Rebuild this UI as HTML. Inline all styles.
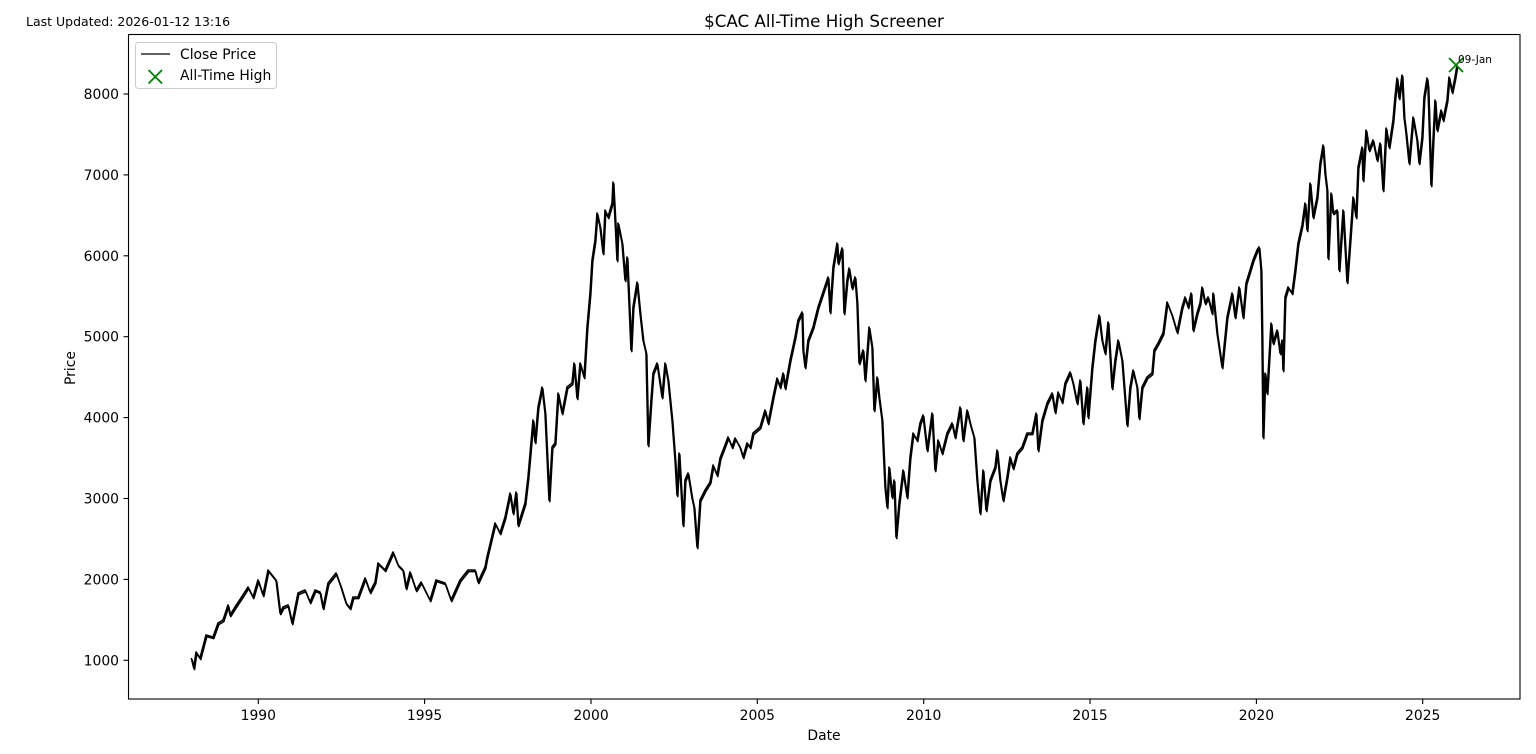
<!DOCTYPE html>
<html>
<head>
<meta charset="utf-8">
<style>
  html, body { margin: 0; padding: 0; background: #ffffff; }
  svg { display: block; }
  text { font-family: "DejaVu Sans", "Liberation Sans", sans-serif; fill: #000; }
</style>
</head>
<body>
<svg width="1536" height="754" viewBox="0 0 1536 754" xmlns="http://www.w3.org/2000/svg">
  <rect x="0" y="0" width="1536" height="754" fill="#ffffff"/>

  <!-- Header texts -->
  <text x="26" y="26" font-size="12.5">Last Updated: 2026-01-12 13:16</text>
  <text x="824" y="27" font-size="16.7" text-anchor="middle">$CAC All-Time High Screener</text>

  <!-- Price series -->
  <polyline id="px" fill="none" stroke="#000" stroke-width="1.6" stroke-linejoin="round" points="
191.3,658 193.7,668 196,652 200,658 206,635 213,637 218,623 223,620 228,605 230,615 235,607 241,598 248,587 253,597 258,580 263,595 268,570 276,580 280,613 283,607 288,605 292,623 298,593 305,590 310,602 315,590 320,592 323,608 328,583 336,573 341,587 346,603 350,608 353,597 358,597 365,578 370,592 375,582 378,563 385,570 393,552 398,565 403,570 406,588 410,572 416,590 421,582 430,600 436,580 445,583 451,600 460,580 468,570 475,570 478,582 485,567
486.7,558 495,523 500,533 505,517 510,493 513,513 516,492 518,525 525,503 528,477 533,420 535,442 538,407 542,387 545,413 549,500 552,447 555,443 558,393 562,413 567,387 572,383 574,363 577,398 580,363 584,377 587,327 590,293 592,260 595,240 597,213 600,227 603,253 605,210 608,217 612,203 613,182 615,220 617,260 618,223 622,243 625,280 627,257 631,350 633,307 637,282 640,313 643,340 646,353 648,445 651,400 653,373 657,363 662,397 665,363 668,380 672,420 675,460 677,495 679,453 683,525 685,480 688,473 692,498 694,507 697,547 700,500 705,490 710,482 713,465 717,475 720,458 725,445 728,437 732,447 735,438 740,447 743,457 747,443
750,447 753,433 760,427 765,410 768,423 773,397 777,378 780,387 783,373 785,388 790,360 795,337 798,320 802,312 803,350 805,367 808,340 813,327 818,307 823,292 828,277 830,312 833,267 837,243 838,263 842,248 844,313 847,280 849,268 852,288 855,277 857,303 859,363 863,350 865,380 869,327 872,347 874,410 877,377 879,397 882,420 883,443 885,487 887,507 889,467 892,497 894,480 896,537 899,503 903,470 907,497 910,457 913,433 917,440 920,423 923,415 927,450 932,413 935,470 938,440 942,453 947,433 952,423 955,437 960,407 963,440 967,410 970,423 974,437 977,480 980,513 983,470 986,510 990,480 995,467 997,450 1000,480 1003,500 1007,477 1010,457 1013,468 1017,453 1022,447 1027,433 1032,433 1036,413 1038,450 1042,420 1047,403 1052,393 1055,412 1058,392 1062,402 1065,383 1070,372 1073,383 1077,403
1080,380 1083,423 1087,387 1088,417 1092,367 1095,340 1099,315 1102,340 1105,353 1108,322 1112,388 1115,360 1118,340 1122,360 1127,425 1130,387 1133,370 1137,387 1139,418 1142,387 1147,377 1152,373 1154,350 1158,343 1163,333 1167,302 1172,315 1177,332 1182,307 1185,297 1188,307 1191,293 1193,330 1197,313 1200,303 1202,287 1205,303 1208,297 1212,313 1213,293 1217,333 1222,367 1227,317 1232,293 1235,317 1239,287 1243,317 1246,283 1250,270 1253,260 1257,250 1259,247 1261,270 1262,340 1263,437 1265,373 1267,393 1271,323 1273,343 1277,330 1280,353 1282,340 1283,370 1285,297 1288,287 1292,293 1295,270 1298,243 1302,225 1305,203 1307,230 1310,183 1313,217 1317,197 1320,163 1323,145 1325,173 1327,190 1328,258 1331,193 1333,213 1337,210 1339,270 1343,210 1347,282 1350,240 1353,197 1356,217 1358,167 1362,147 1363,180 1366,130 1369,150 1373,140 1377,160 1380,143 1383,190 1386,128 1389,147 1393,120 1395,97 1397,78 1399,98 1402,75 1404,117 1406,133 1409,163 1413,117 1417,140 1419,163 1422,137 1424,97 1427,78 1428,87 1431,185 1433,140 1435,100 1437,130 1441,110 1443,120 1447,100 1449,77 1452,92 1455,77 1457,65"/>
  <use href="#px" transform="translate(0.8,1.6)"/>

  <!-- ATH marker -->
  <g stroke="#008000" stroke-width="1.8">
    <line x1="1449" y1="58" x2="1463" y2="72"/>
    <line x1="1449" y1="72" x2="1463" y2="58"/>
  </g>
  <text x="1458" y="63" font-size="10.5">09-Jan</text>

  <!-- Axes frame -->
  <rect x="128.5" y="34.5" width="1391.5" height="664.5" fill="none" stroke="#000" stroke-width="1.1"/>

  <!-- Y ticks -->
  <g stroke="#000" stroke-width="1.1">
    <line x1="123.5" y1="660.3" x2="128.5" y2="660.3"/>
    <line x1="123.5" y1="579.4" x2="128.5" y2="579.4"/>
    <line x1="123.5" y1="498.5" x2="128.5" y2="498.5"/>
    <line x1="123.5" y1="417.6" x2="128.5" y2="417.6"/>
    <line x1="123.5" y1="336.7" x2="128.5" y2="336.7"/>
    <line x1="123.5" y1="255.8" x2="128.5" y2="255.8"/>
    <line x1="123.5" y1="174.9" x2="128.5" y2="174.9"/>
    <line x1="123.5" y1="94" x2="128.5" y2="94"/>
  </g>
  <g font-size="13.9" text-anchor="end">
    <text x="119" y="665.3">1000</text>
    <text x="119" y="584.4">2000</text>
    <text x="119" y="503.5">3000</text>
    <text x="119" y="422.6">4000</text>
    <text x="119" y="341.7">5000</text>
    <text x="119" y="260.8">6000</text>
    <text x="119" y="179.9">7000</text>
    <text x="119" y="99">8000</text>
  </g>

  <!-- X ticks -->
  <g stroke="#000" stroke-width="1.1">
    <line x1="258.3" y1="699" x2="258.3" y2="704"/>
    <line x1="424.6" y1="699" x2="424.6" y2="704"/>
    <line x1="591" y1="699" x2="591" y2="704"/>
    <line x1="757.3" y1="699" x2="757.3" y2="704"/>
    <line x1="923.7" y1="699" x2="923.7" y2="704"/>
    <line x1="1090" y1="699" x2="1090" y2="704"/>
    <line x1="1256.4" y1="699" x2="1256.4" y2="704"/>
    <line x1="1422.7" y1="699" x2="1422.7" y2="704"/>
  </g>
  <g font-size="13.9" text-anchor="middle">
    <text x="258.3" y="720">1990</text>
    <text x="424.6" y="720">1995</text>
    <text x="591" y="720">2000</text>
    <text x="757.3" y="720">2005</text>
    <text x="923.7" y="720">2010</text>
    <text x="1090" y="720">2015</text>
    <text x="1256.4" y="720">2020</text>
    <text x="1422.7" y="720">2025</text>
  </g>

  <!-- Axis labels -->
  <text x="824" y="740" font-size="13.9" text-anchor="middle">Date</text>
  <text x="75" y="368" font-size="13.9" text-anchor="middle" transform="rotate(-90 75 368)">Price</text>

  <!-- Legend -->
  <rect x="135.5" y="42.5" width="141" height="46" rx="3" ry="3" fill="#ffffff" fill-opacity="0.85" stroke="#cccccc" stroke-width="1"/>
  <line x1="141" y1="54" x2="170" y2="54" stroke="#000" stroke-width="1.3"/>
  <text x="180" y="59" font-size="13.9">Close Price</text>
  <g stroke="#008000" stroke-width="1.8">
    <line x1="148.5" y1="70" x2="162" y2="83.5"/>
    <line x1="148.5" y1="83.5" x2="162" y2="70"/>
  </g>
  <text x="180" y="80" font-size="13.9">All-Time High</text>
</svg>
</body>
</html>
